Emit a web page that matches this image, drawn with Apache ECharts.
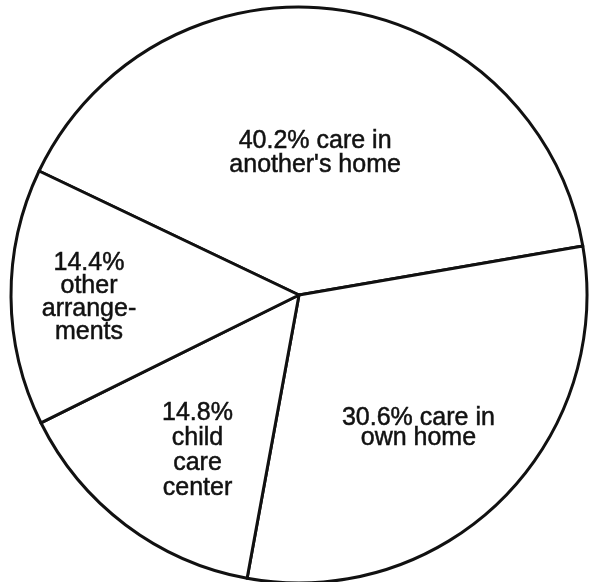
<!DOCTYPE html>
<html lang="en">
<head>
    <meta charset="UTF-8">
    <title>Child care arrangements</title>
    <style>
        body{
            margin: 0;
            background-color: #ffffff;
        }
        #chart{
            width: 589px;
            height: 582px;
        }
    </style>
</head>
<body>
<div id="chart"></div>
</body>
</html>
<script src="https://cdn.jsdelivr.net/npm/echarts@6/dist/echarts.min.js"></script>
<script>
    // values
    var names = ["40.2% care in\nanother's home", "30.6% care in\nown home", "14.8%\nchild\ncare\ncenter", "14.4%\nother\narrange-\nments"];
    var shares = [40.2, 30.6, 14.8, 14.4];

    // label nudges (px) and line heights so the text sits like the original
    var labelShift = [[-4, 4], [16, 29], [-13, 38], [-63, 2]];
    var lineHeights = [24, 20, 25, 23];

    var pieData = [];
    for (var i = 0; i < shares.length; i++) {
        pieData.push({
            value: shares[i],
            name: names[i],
            label: {lineHeight: lineHeights[i]}
        });
    }

    var chart = echarts.init(document.getElementById("chart"));
    var option = {
        backgroundColor: '#ffffff',
        animation: false,
        series: [{
            type: 'pie',
            center: [299, 295],
            radius: 288,
            startAngle: 154.5,
            clockwise: true,
            data: pieData,
            itemStyle: {
                color: '#ffffff',
                borderColor: '#111111',
                borderWidth: 3
            },
            label: {
                show: true,
                position: 'inside',
                formatter: '{b}',
                color: '#111111',
                fontFamily: 'Liberation Sans, Arial, sans-serif',
                fontSize: 25,
                textBorderColor: '#111111',
                textBorderWidth: 0.5,
                align: 'center'
            },
            labelLine: {show: false},
            emphasis: {disabled: true},
            labelLayout: function (params) {
                var s = labelShift[params.dataIndex];
                return {dx: s[0], dy: s[1]};
            }
        }]
    };
    chart.setOption(option);
</script>
